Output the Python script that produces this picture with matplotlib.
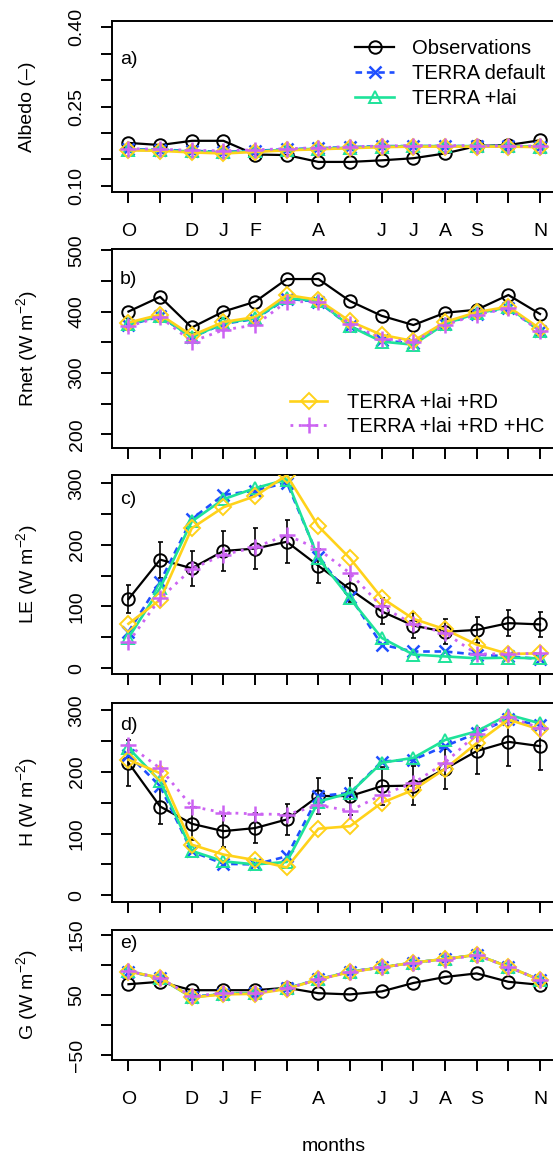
import matplotlib
matplotlib.use("Agg")
import matplotlib.pyplot as plt
from matplotlib.lines import Line2D

plt.rcParams['font.family'] = ['Liberation Sans', 'DejaVu Sans']
plt.rcParams['font.size'] = 14
plt.rcParams['mathtext.fontset'] = 'custom'
plt.rcParams['mathtext.rm'] = 'Liberation Sans'
plt.rcParams['mathtext.it'] = 'Liberation Sans:italic'

# months Oct .. Nov (14 values), R drops overlapping labels
months = list(range(1, 15))
month_labels = ["O", "", "D", "J", "F", "", "A", "", "J", "J", "A", "S", "", "N"]

# a) albedo
alb_obs = [0.181, 0.177, 0.185, 0.185, 0.159, 0.158, 0.145, 0.145, 0.148, 0.152, 0.161, 0.175, 0.177, 0.186]
alb_def = [0.169, 0.168, 0.166, 0.164, 0.166, 0.169, 0.171, 0.173, 0.175, 0.175, 0.175, 0.175, 0.175, 0.174]
alb_lai = [0.168, 0.167, 0.165, 0.163, 0.165, 0.168, 0.170, 0.172, 0.174, 0.175, 0.175, 0.175, 0.175, 0.174]
alb_rd = [0.167, 0.166, 0.163, 0.161, 0.164, 0.167, 0.169, 0.171, 0.173, 0.174, 0.174, 0.174, 0.174, 0.173]
alb_hc = [0.170, 0.169, 0.167, 0.166, 0.168, 0.170, 0.172, 0.174, 0.175, 0.176, 0.176, 0.176, 0.175, 0.175]

# b) net radiation
rn_obs = [400, 424, 374, 400, 416, 453, 453, 417, 393, 378, 398, 403, 427, 396]
rn_def = [378, 392, 358, 380, 388, 421, 416, 376, 353, 348, 380, 396, 406, 368]
rn_lai = [379, 393, 358, 381, 389, 422, 417, 376, 351, 346, 380, 397, 407, 369]
rn_rd = [382, 395, 361, 383, 391, 427, 419, 384, 362, 352, 383, 399, 408, 372]
rn_hc = [376, 391, 351, 370, 378, 416, 416, 380, 356, 351, 378, 395, 405, 368]

# c) latent heat
le_obs = [112, 176, 162, 190, 194, 205, 166, 128, 92, 69, 59, 62, 73, 71]
le_err = [23, 29, 28, 33, 33, 35, 28, 21, 21, 20, 20, 21, 21, 20]
le_def = [59, 140, 242, 281, 288, 301, 180, 116, 38, 27, 27, 22, 19, 15]
le_lai = [49, 130, 238, 274, 292, 306, 178, 113, 49, 22, 19, 16, 17, 16]
le_rd = [72, 111, 227, 261, 279, 313, 230, 178, 114, 80, 63, 38, 23, 24]
le_hc = [42, 113, 161, 184, 196, 216, 193, 154, 100, 71, 57, 23, 23, 24]

# d) sensible heat
h_obs = [215, 144, 116, 104, 109, 123, 161, 161, 177, 178, 205, 234, 249, 242]
h_err = [37, 28, 27, 25, 25, 25, 29, 30, 31, 31, 32, 38, 40, 39]
h_def = [228, 177, 71, 51, 50, 63, 161, 166, 217, 220, 242, 263, 286, 276]
h_lai = [239, 185, 72, 55, 50, 54, 152, 166, 215, 223, 252, 266, 293, 279]
h_rd = [220, 198, 82, 66, 57, 45, 108, 112, 150, 171, 205, 247, 285, 269]
h_hc = [244, 206, 144, 134, 132, 131, 146, 137, 163, 182, 215, 262, 290, 271]

# e) ground heat
g_obs = [68, 72, 58, 58, 58, 62, 53, 51, 56, 70, 80, 86, 72, 67]
g_def = [89, 78, 47, 52, 53, 61, 76, 89, 96, 104, 110, 117, 97, 75]
g_lai = [90, 78, 46, 52, 53, 61, 76, 89, 96, 104, 110, 117, 97, 75]
g_rd = [89, 79, 46, 51, 52, 60, 76, 88, 96, 104, 110, 117, 97, 75]
g_hc = [90, 78, 48, 53, 54, 61, 76, 89, 96, 103, 109, 116, 97, 75]

names = ["Observations", "TERRA default", "TERRA +lai", "TERRA +lai +RD", "TERRA +lai +RD +HC"]
styles = [
    dict(color="black", ls="-", lw=1.6, marker="o", ms=9, mfc="none", mew=1.4),
    dict(color="#1f4fff", ls=(0, (2.5, 1.8)), lw=1.9, marker="x", ms=9, mew=1.8),
    dict(color="#1ee39a", ls="-", lw=1.9, marker="^", ms=9, mfc="none", mew=1.4),
    dict(color="#ffd21a", ls="-", lw=1.9, marker="D", ms=8.5, mfc="none", mew=1.4),
    dict(color="#cc63f2", ls=(0, (1, 2)), lw=2.0, marker="+", ms=12, mew=1.8),
]

W, H = 553, 1157
fig = plt.figure(figsize=(W / 100, H / 100), dpi=100)


def rect(top, bottom, left=112, right=556.5):
    return [left / W, 1 - bottom / H, (right - left) / W, (bottom - top) / H]


panels = [
    # top, bottom, ylim, ticks, labelled ticks, ylabel, letter y, series, errors
    (21, 192, (0.088, 0.412), [0.10, 0.15, 0.20, 0.25, 0.30, 0.35, 0.40], [0.10, 0.25, 0.40],
     "Albedo (–)", 0.772, [alb_obs, alb_def, alb_lai, alb_rd, alb_hc], None, "a)"),
    (249, 447.7, (178, 502), [200, 250, 300, 350, 400, 450, 500], [200, 300, 400, 500],
     r"Rnet (W m$^{-2}$)", 0.844, [rn_obs, rn_def, rn_lai, rn_rd, rn_hc], None, "b)"),
    (475.5, 674, (-9.5, 312.5), [0, 50, 100, 150, 200, 250, 300], [0, 100, 200, 300],
     r"LE (W m$^{-2}$)", 0.877, [le_obs, le_def, le_lai, le_rd, le_hc], le_err, "c)"),
    (703, 902, (-11, 312), [0, 50, 100, 150, 200, 250, 300], [0, 100, 200, 300],
     r"H (W m$^{-2}$)", 0.889, [h_obs, h_def, h_lai, h_rd, h_hc], h_err, "d)"),
    (930, 1060, (-58.3, 158.3), [-50, 0, 50, 100, 150], [-50, 50, 150],
     r"G (W m$^{-2}$)", 0.9, [g_obs, g_def, g_lai, g_rd, g_hc], None, "e)"),
]

axes = []
for k, (top, bot, ylim, ticks, labticks, ylab, ly, series, err, letter) in enumerate(panels):
    ax = fig.add_axes(rect(top, bot))
    axes.append(ax)
    if err is not None:
        ax.errorbar(months, series[0], yerr=err, fmt="none", ecolor="black",
                    elinewidth=1.2, capsize=1.8, capthick=1.2, zorder=2)
    for s, st, nm in zip(series, styles, names):
        ax.plot(months, s, label=nm, zorder=3, clip_on=True, **st)
    ax.set_xlim(0.48, 14.52)
    ax.set_ylim(*ylim)
    ax.set_xticks(months)
    ax.set_yticks(ticks)
    if k == 0:
        ax.set_yticklabels(["%.2f" % t if t in labticks else "" for t in ticks])
    else:
        ax.set_yticklabels([(str(t).replace("-", "\u2212") if t in labticks else "") for t in ticks])
    for lab in ax.get_yticklabels():
        lab.set_rotation(90)
        lab.set_va("center")
    if k in (0, 4):
        ax.set_xticklabels(month_labels)
    else:
        ax.set_xticklabels([""] * 14)
    ax.tick_params(axis="both", direction="out", length=8, width=1.4, labelsize=14)
    ax.tick_params(axis="x", pad=14)
    ax.tick_params(axis="y", pad=11)
    for sp in ax.spines.values():
        sp.set_linewidth(1.4)
    ax.set_ylabel(ylab, fontsize=14, va="center")
    ax.yaxis.set_label_coords((27 - 112) / 444.5, 0.5)
    ax.text(0.018, ly, letter, transform=ax.transAxes, ha="left", va="center", fontsize=14)

h = [Line2D([], [], **st) for st in styles]
axes[0].legend(h[:3], names[:3], loc="upper left", bbox_to_anchor=(355 / W, 1 - 39 / H),
               bbox_transform=fig.transFigure, frameon=False, fontsize=14.5, handlelength=1.95,
               handletextpad=0.9, labelspacing=0.3, borderpad=0, borderaxespad=0)
axes[1].legend(h[3:], names[3:], loc="upper left", bbox_to_anchor=(290 / W, 1 - 393 / H),
               bbox_transform=fig.transFigure, frameon=False, fontsize=14.5, handlelength=1.85,
               handletextpad=1.0, labelspacing=0.25, borderpad=0, borderaxespad=0)

fig.text(334 / W, 1 - 1146.7 / H, "months", ha="center", va="center", fontsize=14)

fig.savefig("out.png", dpi=100)
